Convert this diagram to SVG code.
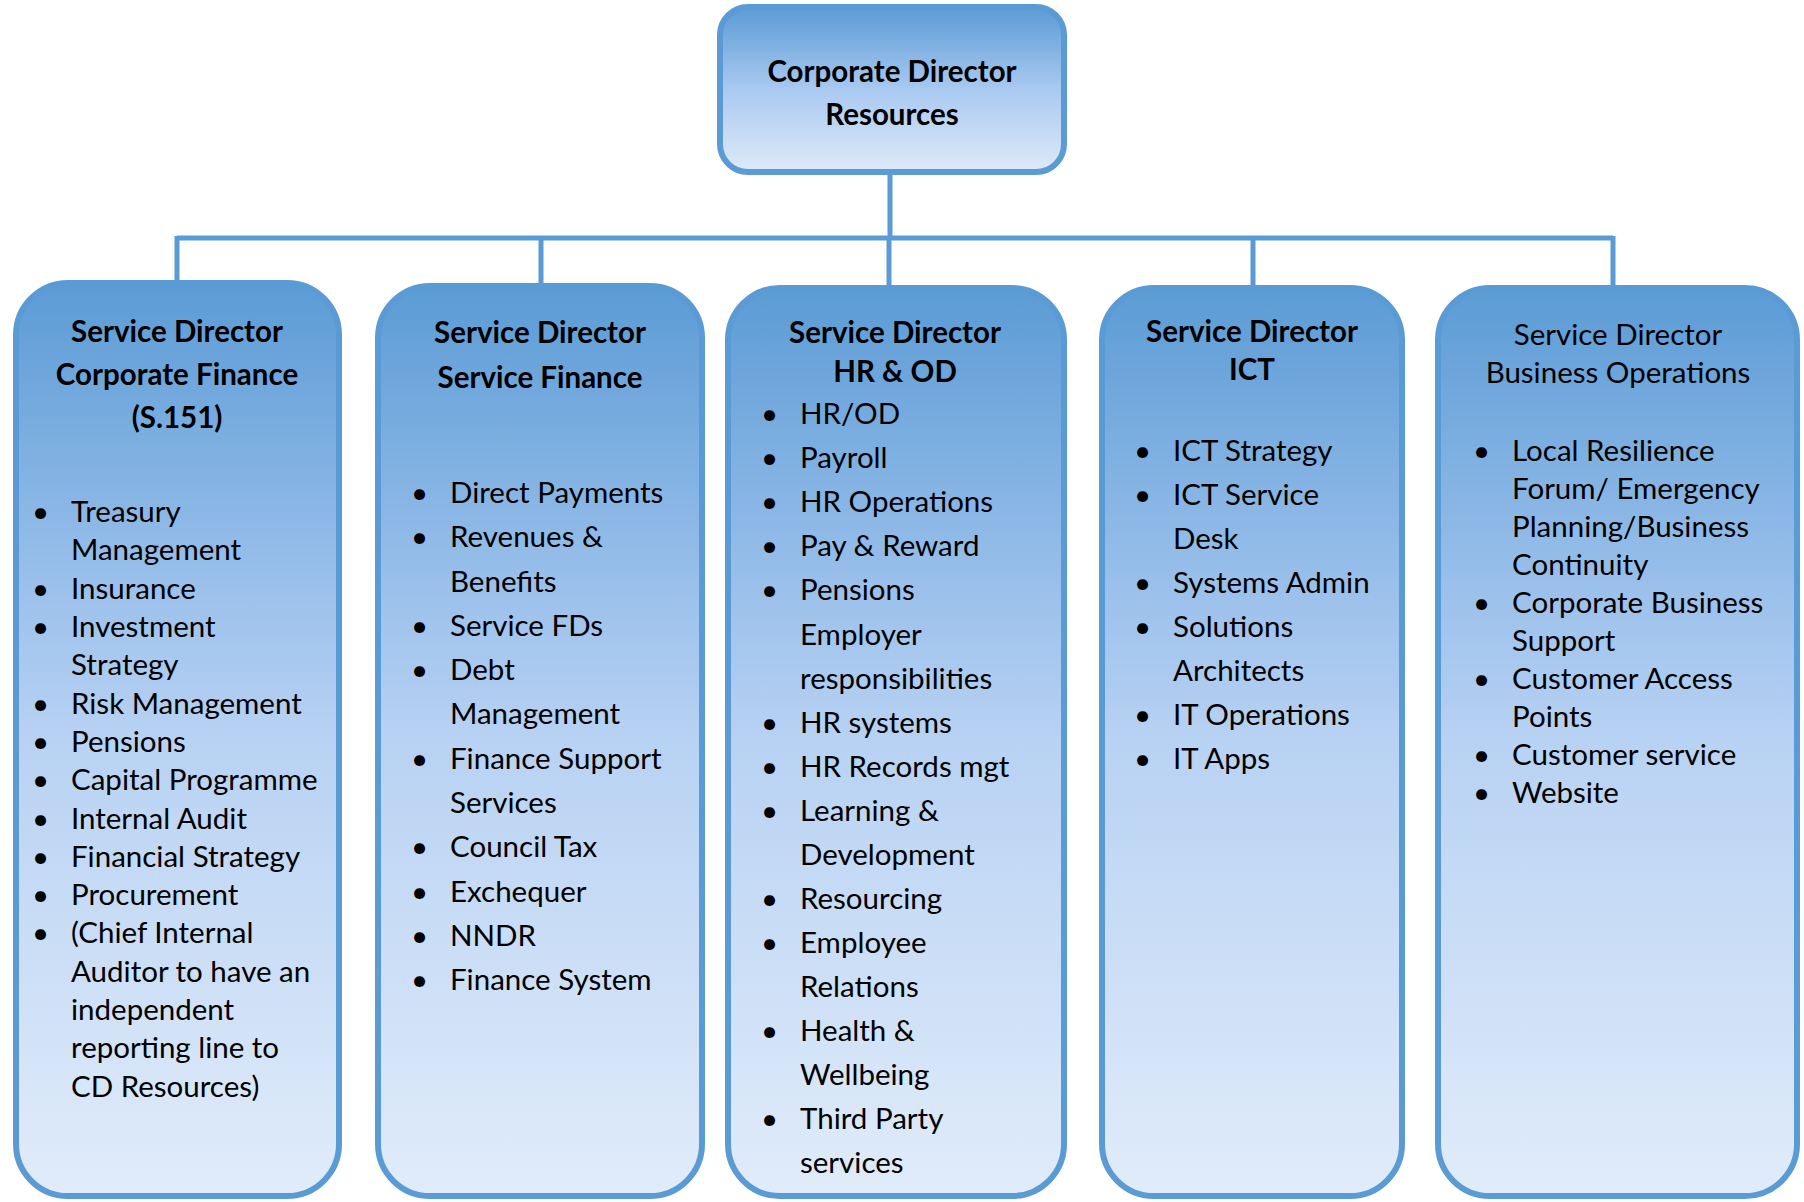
<svg xmlns="http://www.w3.org/2000/svg" width="1804" height="1202" viewBox="0 0 1804 1202">
<defs>
<linearGradient id="g" x1="0" y1="0" x2="0" y2="1">
<stop offset="0" stop-color="#5B9BD5"/>
<stop offset="0.35" stop-color="#9EC2EC"/>
<stop offset="0.5" stop-color="#B8D2F3"/>
<stop offset="1" stop-color="#E1ECFA"/>
</linearGradient>
<linearGradient id="gt" x1="0" y1="0" x2="0" y2="1">
<stop offset="0" stop-color="#5B9BD5"/>
<stop offset="0.5" stop-color="#A9C9F0"/>
<stop offset="1" stop-color="#DEEAF9"/>
</linearGradient>
<style>
.box{fill:url(#g);stroke:#5B9BD5;stroke-width:6}
.top{fill:url(#gt);stroke:#5B9BD5;stroke-width:6}
.con{fill:none;stroke:#5B9BD5;stroke-width:5}
text{font-family:Lato,"Liberation Sans",sans-serif;font-size:29.5px;fill:#000}
.h{font-weight:bold;text-anchor:middle}
.hn{text-anchor:middle}
.th{font-weight:bold;text-anchor:middle;font-size:29.5px}
</style>
</defs>
<rect width="1804" height="1202" fill="#FFFFFF"/>
<g id="connectors">
<path class="con" d="M890 175 V238 M177 238 H1613 M177 236 V281 M541 236 V284 M889 236 V286 M1253 236 V286 M1613 236 V286"/>
</g>
<g id="corporate-director">
<rect class="top" x="720" y="7" width="344" height="165" rx="28"/>
<text class="th" x="892" y="82">Corporate Director</text>
<text class="th" x="892" y="125">Resources</text>
</g>
<g id="sd-corporate-finance">
<rect class="box" x="16" y="283" width="323" height="913" rx="52"/>
<text class="h" x="177" y="342">Service Director</text>
<text class="h" x="177" y="385">Corporate Finance</text>
<text class="h" x="177" y="428">(S.151)</text>
<text x="32" y="522">•</text><text x="71" y="522">Treasury</text>
<text x="71" y="560">Management</text>
<text x="32" y="599">•</text><text x="71" y="599">Insurance</text>
<text x="32" y="637">•</text><text x="71" y="637">Investment</text>
<text x="71" y="675">Strategy</text>
<text x="32" y="714">•</text><text x="71" y="714">Risk Management</text>
<text x="32" y="752">•</text><text x="71" y="752">Pensions</text>
<text x="32" y="790">•</text><text x="71" y="790">Capital Programme</text>
<text x="32" y="829">•</text><text x="71" y="829">Internal Audit</text>
<text x="32" y="867">•</text><text x="71" y="867">Financial Strategy</text>
<text x="32" y="905">•</text><text x="71" y="905">Procurement</text>
<text x="32" y="943">•</text><text x="71" y="943">(Chief Internal</text>
<text x="71" y="982">Auditor to have an</text>
<text x="71" y="1020">independent</text>
<text x="71" y="1058">reporting line to</text>
<text x="71" y="1097">CD Resources)</text>
</g>
<g id="sd-service-finance">
<rect class="box" x="378" y="286" width="324" height="910" rx="52"/>
<text class="h" x="540" y="343">Service Director</text>
<text class="h" x="540" y="388">Service Finance</text>
<text x="411" y="503">•</text><text x="450" y="503">Direct Payments</text>
<text x="411" y="547">•</text><text x="450" y="547">Revenues &amp;</text>
<text x="450" y="592">Benefits</text>
<text x="411" y="636">•</text><text x="450" y="636">Service FDs</text>
<text x="411" y="680">•</text><text x="450" y="680">Debt</text>
<text x="450" y="724">Management</text>
<text x="411" y="769">•</text><text x="450" y="769">Finance Support</text>
<text x="450" y="813">Services</text>
<text x="411" y="857">•</text><text x="450" y="857">Council Tax</text>
<text x="411" y="902">•</text><text x="450" y="902">Exchequer</text>
<text x="411" y="946">•</text><text x="450" y="946">NNDR</text>
<text x="411" y="990">•</text><text x="450" y="990">Finance System</text>
</g>
<g id="sd-hr-od">
<rect class="box" x="728" y="288" width="336" height="908" rx="52"/>
<text class="h" x="895" y="343">Service Director</text>
<text class="h" x="895" y="382">HR &amp; OD</text>
<text x="761" y="424">•</text><text x="800" y="424">HR/OD</text>
<text x="761" y="468">•</text><text x="800" y="468">Payroll</text>
<text x="761" y="512">•</text><text x="800" y="512">HR Operations</text>
<text x="761" y="556">•</text><text x="800" y="556">Pay &amp; Reward</text>
<text x="761" y="600">•</text><text x="800" y="600">Pensions</text>
<text x="800" y="645">Employer</text>
<text x="800" y="689">responsibilities</text>
<text x="761" y="733">•</text><text x="800" y="733">HR systems</text>
<text x="761" y="777">•</text><text x="800" y="777">HR Records mgt</text>
<text x="761" y="821">•</text><text x="800" y="821">Learning &amp;</text>
<text x="800" y="865">Development</text>
<text x="761" y="909">•</text><text x="800" y="909">Resourcing</text>
<text x="761" y="953">•</text><text x="800" y="953">Employee</text>
<text x="800" y="997">Relations</text>
<text x="761" y="1041">•</text><text x="800" y="1041">Health &amp;</text>
<text x="800" y="1085">Wellbeing</text>
<text x="761" y="1129">•</text><text x="800" y="1129">Third Party</text>
<text x="800" y="1173">services</text>
</g>
<g id="sd-ict">
<rect class="box" x="1102" y="288" width="300" height="908" rx="52"/>
<text class="h" x="1252" y="342">Service Director</text>
<text class="h" x="1252" y="380">ICT</text>
<text x="1134" y="461">•</text><text x="1173" y="461">ICT Strategy</text>
<text x="1134" y="505">•</text><text x="1173" y="505">ICT Service</text>
<text x="1173" y="549">Desk</text>
<text x="1134" y="593">•</text><text x="1173" y="593">Systems Admin</text>
<text x="1134" y="637">•</text><text x="1173" y="637">Solutions</text>
<text x="1173" y="681">Architects</text>
<text x="1134" y="725">•</text><text x="1173" y="725">IT Operations</text>
<text x="1134" y="769">•</text><text x="1173" y="769">IT Apps</text>
</g>
<g id="sd-business-operations">
<rect class="box" x="1438" y="288" width="359" height="908" rx="52"/>
<text class="hn" x="1618" y="345">Service Director</text>
<text class="hn" x="1618" y="383">Business Operations</text>
<text x="1473" y="461">•</text><text x="1512" y="461">Local Resilience</text>
<text x="1512" y="499">Forum/ Emergency</text>
<text x="1512" y="537">Planning/Business</text>
<text x="1512" y="575">Continuity</text>
<text x="1473" y="613">•</text><text x="1512" y="613">Corporate Business</text>
<text x="1512" y="651">Support</text>
<text x="1473" y="689">•</text><text x="1512" y="689">Customer Access</text>
<text x="1512" y="727">Points</text>
<text x="1473" y="765">•</text><text x="1512" y="765">Customer service</text>
<text x="1473" y="803">•</text><text x="1512" y="803">Website</text>
</g>
</svg>
